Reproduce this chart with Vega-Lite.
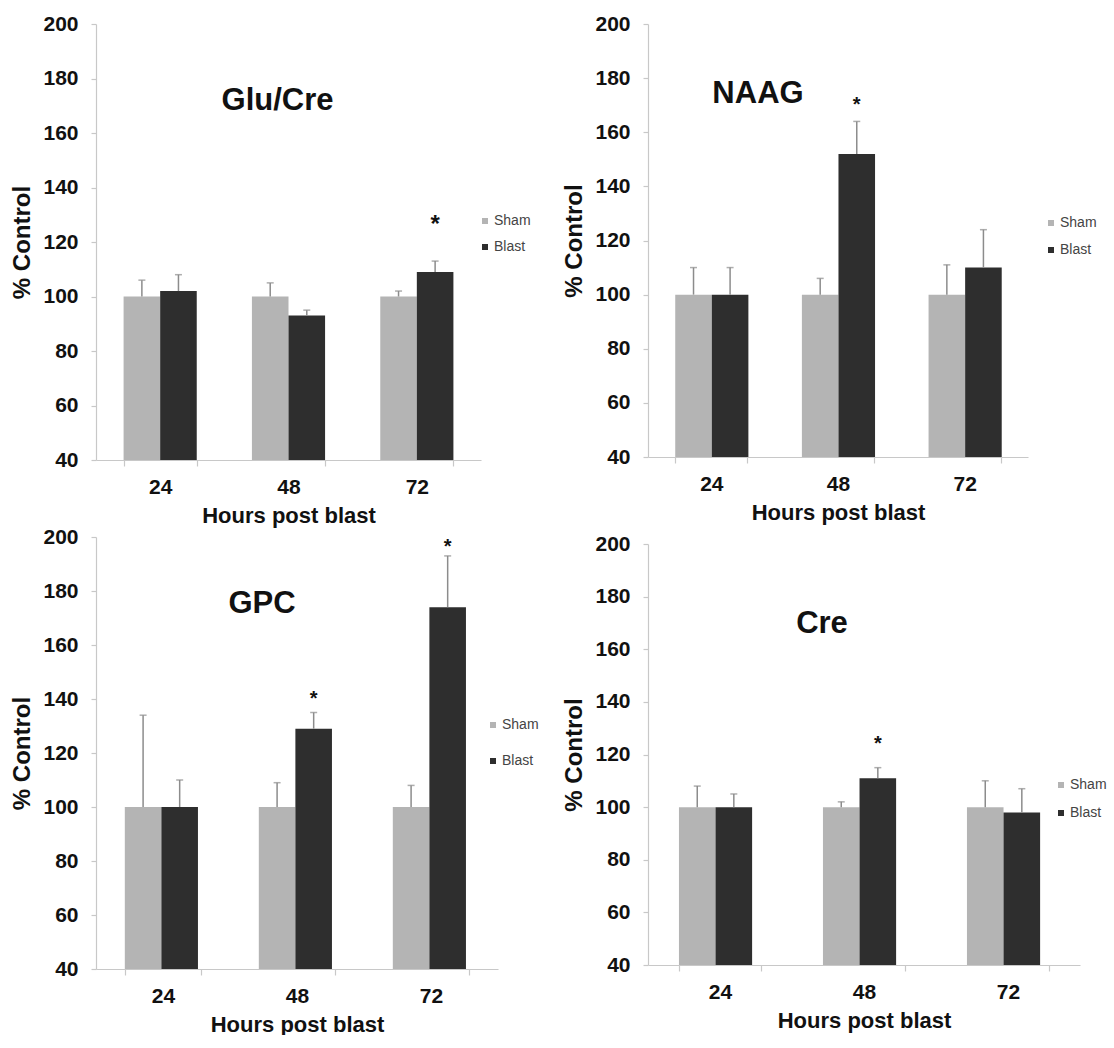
{
  "$schema": "https://vega.github.io/schema/vega-lite/v6.json",
  "padding": {"left": 10, "top": 13, "right": 0, "bottom": 0},
  "background": "white",
  "datasets": {
    "mrs": [
      {"panel": "Glu/Cre", "hours": "24", "group": "Sham", "value": 100, "upper": 106},
      {"panel": "Glu/Cre", "hours": "24", "group": "Blast", "value": 102, "upper": 108},
      {"panel": "Glu/Cre", "hours": "48", "group": "Sham", "value": 100, "upper": 105},
      {"panel": "Glu/Cre", "hours": "48", "group": "Blast", "value": 93, "upper": 95},
      {"panel": "Glu/Cre", "hours": "72", "group": "Sham", "value": 100, "upper": 102},
      {"panel": "Glu/Cre", "hours": "72", "group": "Blast", "value": 109, "upper": 113, "star": 128},
      {"panel": "NAAG", "hours": "24", "group": "Sham", "value": 100, "upper": 110},
      {"panel": "NAAG", "hours": "24", "group": "Blast", "value": 100, "upper": 110},
      {"panel": "NAAG", "hours": "48", "group": "Sham", "value": 100, "upper": 106},
      {"panel": "NAAG", "hours": "48", "group": "Blast", "value": 152, "upper": 164, "star": 172},
      {"panel": "NAAG", "hours": "72", "group": "Sham", "value": 100, "upper": 111},
      {"panel": "NAAG", "hours": "72", "group": "Blast", "value": 110, "upper": 124},
      {"panel": "GPC", "hours": "24", "group": "Sham", "value": 100, "upper": 134},
      {"panel": "GPC", "hours": "24", "group": "Blast", "value": 100, "upper": 110},
      {"panel": "GPC", "hours": "48", "group": "Sham", "value": 100, "upper": 109},
      {"panel": "GPC", "hours": "48", "group": "Blast", "value": 129, "upper": 135, "star": 142},
      {"panel": "GPC", "hours": "72", "group": "Sham", "value": 100, "upper": 108},
      {"panel": "GPC", "hours": "72", "group": "Blast", "value": 174, "upper": 193, "star": 198},
      {"panel": "Cre", "hours": "24", "group": "Sham", "value": 100, "upper": 108},
      {"panel": "Cre", "hours": "24", "group": "Blast", "value": 100, "upper": 105},
      {"panel": "Cre", "hours": "48", "group": "Sham", "value": 100, "upper": 102},
      {"panel": "Cre", "hours": "48", "group": "Blast", "value": 111, "upper": 115, "star": 126},
      {"panel": "Cre", "hours": "72", "group": "Sham", "value": 100, "upper": 110},
      {"panel": "Cre", "hours": "72", "group": "Blast", "value": 98, "upper": 107}
    ]
  },
  "spacing": 23,
  "resolve": {"scale": {"x": "independent", "y": "independent", "color": "independent"}},
  "hconcat": [
    {
      "bounds": "flush",
      "spacing": 77,
      "resolve": {"scale": {"x": "independent", "y": "independent", "color": "independent"}},
      "vconcat": [
        {
          "width": 385, "height": 436,
          "title": {"text": "Glu/Cre", "dx": -11, "offset": -104},
          "data": {"name": "mrs"},
          "transform": [{"filter": "datum.panel == 'Glu/Cre'"}],
          "encoding": {
            "x": {"field": "hours", "type": "nominal", "sort": ["24", "48", "72"], "title": "Hours post blast", "scale": {"paddingInner": 0.43, "paddingOuter": 0.215}},
            "xOffset": {"field": "group", "type": "nominal", "sort": ["Sham", "Blast"], "scale": {"paddingInner": 0, "paddingOuter": 0}}
          },
          "layer": [
            {"mark": {"type": "bar"},
             "encoding": {
               "y": {"field": "value", "type": "quantitative", "title": "% Control", "scale": {"domain": [40, 200], "nice": false, "zero": false}, "axis": {"values": [40, 60, 80, 100, 120, 140, 160, 180, 200]}},
               "y2": {"datum": 40},
               "color": {"field": "group", "type": "nominal", "scale": {"domain": ["Sham", "Blast"], "range": ["#b4b4b4", "#2e2e2e"]},
                         "legend": {"title": null, "orient": "none", "legendX": 382, "legendY": 190, "rowPadding": 12}}
             }},
            {"mark": {"type": "rule", "color": "#8c8c8c", "strokeWidth": 1.5},
             "encoding": {"y": {"field": "value", "type": "quantitative", "title": "% Control"}, "y2": {"field": "upper"}}},
            {"mark": {"type": "tick", "color": "#8c8c8c", "size": 7, "thickness": 1.5},
             "encoding": {"y": {"field": "upper", "type": "quantitative", "title": "% Control"}}},
            {"transform": [{"filter": "isValid(datum.star)"}],
             "mark": {"type": "text", "text": "*", "fontSize": 24, "fontWeight": "bold", "baseline": "middle", "dy": 5, "color": "#111"},
             "encoding": {"y": {"field": "star", "type": "quantitative", "title": "% Control"}}}
          ]
        },
        {
          "width": 402, "height": 432,
          "title": {"text": "GPC", "dx": -35, "offset": -94},
          "data": {"name": "mrs"},
          "transform": [{"filter": "datum.panel == 'GPC'"}],
          "encoding": {
            "x": {"field": "hours", "type": "nominal", "sort": ["24", "48", "72"], "title": "Hours post blast", "scale": {"paddingInner": 0.43, "paddingOuter": 0.215}},
            "xOffset": {"field": "group", "type": "nominal", "sort": ["Sham", "Blast"], "scale": {"paddingInner": 0, "paddingOuter": 0}}
          },
          "layer": [
            {"mark": {"type": "bar"},
             "encoding": {
               "y": {"field": "value", "type": "quantitative", "title": "% Control", "scale": {"domain": [40, 200], "nice": false, "zero": false}, "axis": {"values": [40, 60, 80, 100, 120, 140, 160, 180, 200]}},
               "y2": {"datum": 40},
               "color": {"field": "group", "type": "nominal", "scale": {"domain": ["Sham", "Blast"], "range": ["#b4b4b4", "#2e2e2e"]},
                         "legend": {"title": null, "orient": "none", "legendX": 390, "legendY": 181, "rowPadding": 22}}
             }},
            {"mark": {"type": "rule", "color": "#8c8c8c", "strokeWidth": 1.5},
             "encoding": {"y": {"field": "value", "type": "quantitative", "title": "% Control"}, "y2": {"field": "upper"}}},
            {"mark": {"type": "tick", "color": "#8c8c8c", "size": 7, "thickness": 1.5},
             "encoding": {"y": {"field": "upper", "type": "quantitative", "title": "% Control"}}},
            {"transform": [{"filter": "isValid(datum.star)"}],
             "mark": {"type": "text", "text": "*", "fontSize": 20, "fontWeight": "bold", "baseline": "middle", "dy": 5, "color": "#111"},
             "encoding": {"y": {"field": "star", "type": "quantitative", "title": "% Control"}}}
          ]
        }
      ]
    },
    {
      "bounds": "flush",
      "spacing": 87,
      "resolve": {"scale": {"x": "independent", "y": "independent", "color": "independent"}},
      "vconcat": [
        {
          "width": 380, "height": 433,
          "title": {"text": "NAAG", "dx": -80, "offset": -97},
          "data": {"name": "mrs"},
          "transform": [{"filter": "datum.panel == 'NAAG'"}],
          "encoding": {
            "x": {"field": "hours", "type": "nominal", "sort": ["24", "48", "72"], "title": "Hours post blast", "scale": {"paddingInner": 0.43, "paddingOuter": 0.215}},
            "xOffset": {"field": "group", "type": "nominal", "sort": ["Sham", "Blast"], "scale": {"paddingInner": 0, "paddingOuter": 0}}
          },
          "layer": [
            {"mark": {"type": "bar"},
             "encoding": {
               "y": {"field": "value", "type": "quantitative", "title": "% Control", "scale": {"domain": [40, 200], "nice": false, "zero": false}, "axis": {"values": [40, 60, 80, 100, 120, 140, 160, 180, 200]}},
               "y2": {"datum": 40},
               "color": {"field": "group", "type": "nominal", "scale": {"domain": ["Sham", "Blast"], "range": ["#b4b4b4", "#2e2e2e"]},
                         "legend": {"title": null, "orient": "none", "legendX": 396, "legendY": 192, "rowPadding": 13}}
             }},
            {"mark": {"type": "rule", "color": "#8c8c8c", "strokeWidth": 1.5},
             "encoding": {"y": {"field": "value", "type": "quantitative", "title": "% Control"}, "y2": {"field": "upper"}}},
            {"mark": {"type": "tick", "color": "#8c8c8c", "size": 7, "thickness": 1.5},
             "encoding": {"y": {"field": "upper", "type": "quantitative", "title": "% Control"}}},
            {"transform": [{"filter": "isValid(datum.star)"}],
             "mark": {"type": "text", "text": "*", "fontSize": 20, "fontWeight": "bold", "baseline": "middle", "dy": 5, "color": "#111"},
             "encoding": {"y": {"field": "star", "type": "quantitative", "title": "% Control"}}}
          ]
        },
        {
          "width": 432, "height": 421,
          "title": {"text": "Cre", "dx": -42, "offset": -107},
          "data": {"name": "mrs"},
          "transform": [{"filter": "datum.panel == 'Cre'"}],
          "encoding": {
            "x": {"field": "hours", "type": "nominal", "sort": ["24", "48", "72"], "title": "Hours post blast", "scale": {"paddingInner": 0.43, "paddingOuter": 0.215}},
            "xOffset": {"field": "group", "type": "nominal", "sort": ["Sham", "Blast"], "scale": {"paddingInner": 0, "paddingOuter": 0}}
          },
          "layer": [
            {"mark": {"type": "bar"},
             "encoding": {
               "y": {"field": "value", "type": "quantitative", "title": "% Control", "scale": {"domain": [40, 200], "nice": false, "zero": false}, "axis": {"values": [40, 60, 80, 100, 120, 140, 160, 180, 200]}},
               "y2": {"datum": 40},
               "color": {"field": "group", "type": "nominal", "scale": {"domain": ["Sham", "Blast"], "range": ["#b4b4b4", "#2e2e2e"]},
                         "legend": {"title": null, "orient": "none", "legendX": 406, "legendY": 234, "rowPadding": 14}}
             }},
            {"mark": {"type": "rule", "color": "#8c8c8c", "strokeWidth": 1.5},
             "encoding": {"y": {"field": "value", "type": "quantitative", "title": "% Control"}, "y2": {"field": "upper"}}},
            {"mark": {"type": "tick", "color": "#8c8c8c", "size": 7, "thickness": 1.5},
             "encoding": {"y": {"field": "upper", "type": "quantitative", "title": "% Control"}}},
            {"transform": [{"filter": "isValid(datum.star)"}],
             "mark": {"type": "text", "text": "*", "fontSize": 20, "fontWeight": "bold", "baseline": "middle", "dy": 5, "color": "#111"},
             "encoding": {"y": {"field": "star", "type": "quantitative", "title": "% Control"}}}
          ]
        }
      ]
    }
  ],
  "config": {
    "font": "Liberation Sans",
    "view": {"stroke": null},
    "axis": {
      "grid": false,
      "labelFont": "Liberation Sans", "labelFontWeight": "bold", "labelColor": "#111", "labelFontSize": 21,
      "titleFont": "Liberation Sans", "titleFontWeight": "bold", "titleColor": "#111",
      "domainColor": "#c8c8c8", "tickColor": "#c8c8c8", "domainWidth": 1.2, "tickWidth": 1.2
    },
    "axisY": {"labelPadding": 13, "tickSize": 5, "titleFontSize": 24, "titlePadding": 8},
    "axisX": {"labelAngle": 0, "labelPadding": 10, "tickSize": 6, "tickBand": "extent", "titleFontSize": 22, "titlePadding": 8},
    "legend": {"symbolType": "square", "symbolSize": 36, "symbolStrokeWidth": 0, "labelFont": "Liberation Sans", "labelFontSize": 14, "labelColor": "#444", "padding": 0, "labelOffset": 2},
    "title": {"frame": "group", "anchor": "middle", "baseline": "alphabetic", "font": "Liberation Sans", "fontSize": 31, "fontWeight": "bold", "color": "#111"}
  }
}
